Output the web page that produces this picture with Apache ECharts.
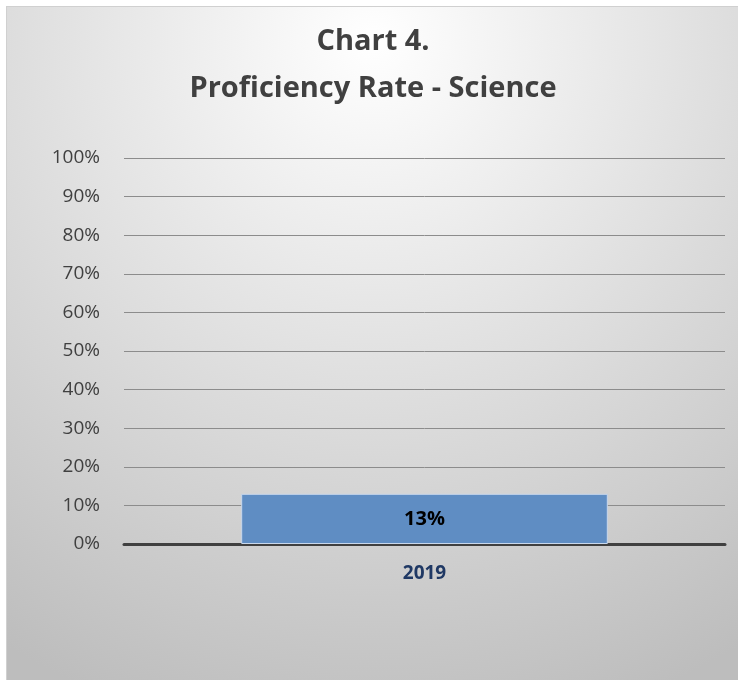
<!DOCTYPE html>
<html>
<head>
<meta charset="utf-8">
<script src="https://cdn.jsdelivr.net/npm/echarts@6/dist/echarts.min.js"></script>
<style>
  html, body { margin: 0; padding: 0; background: #fff; }
  #chart {
    position: absolute; left: 6px; top: 6px;
    width: 732px; height: 674px;
    border-left: 1px solid #d0d0d0; border-top: 1px solid #d0d0d0;
  }
</style>
</head>
<body>
<div id="chart"></div>
<script>
  // data
  var categories = ['2019'];
  var proficiency = [13];
  var yTicks = [0, 10, 20, 30, 40, 50, 60, 70, 80, 90, 100];

  var chart = echarts.init(document.getElementById('chart'));
  var option = {
    backgroundColor: {
      type: 'radial', x: 0.5, y: 0.05, r: 1.05,
      colorStops: [
        { offset: 0, color: '#ffffff' },
        { offset: 1, color: '#bdbdbd' }
      ]
    },
    title: {
      text: 'Chart 4.\nProficiency Rate - Science',
      left: 'center',
      top: 6,
      textStyle: {
        fontFamily: 'Open Sans',
        fontWeight: 'bold',
        fontSize: 29,
        lineHeight: 47,
        color: '#404040'
      }
    },
    grid: { left: 117, right: 14, top: 151, bottom: 137 },
    xAxis: {
      type: 'category',
      data: categories,
      axisLine: { lineStyle: { color: '#404040', width: 3 } },
      axisTick: { show: false },
      axisLabel: {
        margin: 20,
        fontFamily: 'Open Sans',
        fontWeight: 'bold',
        fontSize: 19,
        color: '#1f3864'
      }
    },
    yAxis: {
      type: 'value',
      min: yTicks[0],
      max: yTicks[yTicks.length - 1],
      interval: 10,
      axisLine: { show: false },
      axisTick: { show: false },
      splitLine: { lineStyle: { color: '#8c8c8c', width: 1 } },
      axisLabel: {
        margin: 24,
        fontFamily: 'Open Sans',
        fontSize: 19,
        color: '#404040',
        formatter: '{value}%'
      }
    },
    series: [{
      type: 'bar',
      data: proficiency,
      barWidth: '61%',
      itemStyle: { color: '#5f8dc3', borderColor: '#c9d8ec', borderWidth: 1 },
      label: {
        show: true,
        position: 'inside',
        formatter: '{c}%',
        fontFamily: 'Open Sans',
        fontWeight: 'bold',
        fontSize: 20,
        color: '#000'
      }
    }]
  };
  chart.setOption(option);
</script>
</body>
</html>
